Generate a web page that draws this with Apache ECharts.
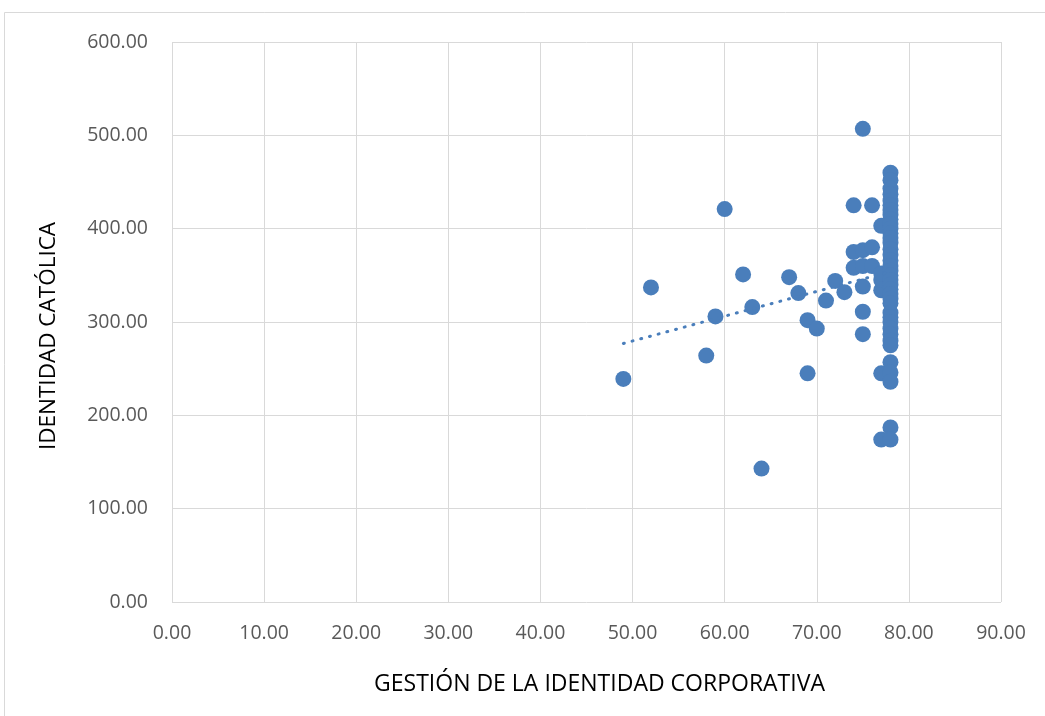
<!DOCTYPE html>
<html>
<head>
<meta charset="utf-8">
<title>Identidad católica vs gestión de la identidad corporativa</title>
<script src="https://cdn.jsdelivr.net/npm/echarts@6/dist/echarts.min.js"></script>
<style>
    html, body { margin: 0; padding: 0; background: #fff; }
    #main { width: 1045px; height: 716px; }
</style>
</head>
<body>
<div id="main"></div>
<script>
// puntos: gestión (x) e identidad (y)
var gestion = [49, 52, 58, 59, 60, 62, 63, 64, 67, 68, 69, 69, 70, 71, 72, 73,
    74, 74, 74, 75, 75, 75, 75, 75, 75, 76, 76, 76, 77, 77, 77, 77, 77, 77];
var identidad = [239, 337, 264, 306, 421, 351, 316, 143, 348, 331, 302, 245, 293, 323, 344, 332,
    425, 375, 358, 507, 377, 360, 338, 311, 287, 425, 380, 360, 403, 334, 345, 352, 245, 174];

// columna densa en x = 78
var identidad78 = [460, 452, 443, 437, 430, 425, 420, 415, 410, 405, 400, 395, 390, 385,
    378, 372, 366, 360, 355, 350, 345, 340, 335, 330, 325, 320, 310, 305, 300, 293,
    287, 280, 275, 257, 246, 236, 187, 174];

// línea de tendencia (lineal)
var trendX = [49, 78];
var trendY = [277, 354];

var xTicks = { min: 0, max: 90, interval: 10 };
var yTicks = { min: 0, max: 600, interval: 100 };

var puntos = [];
for (var i = 0; i < gestion.length; i++) {
    puntos.push([gestion[i], identidad[i]]);
}
for (var j = 0; j < identidad78.length; j++) {
    puntos.push([78, identidad78[j]]);
}
var tendencia = [];
for (var k = 0; k < trendX.length; k++) {
    tendencia.push([trendX[k], trendY[k]]);
}

var font = '"Open Sans", "Noto Sans", sans-serif';
var myChart = echarts.init(document.getElementById('main'));
var option = {
    animation: false,
    backgroundColor: '#fff',
    graphic: [{
        type: 'rect',
        shape: { x: 4.5, y: 12.5, width: 1100, height: 800 },
        style: { fill: 'none', stroke: '#d9d9d9', lineWidth: 1 },
        silent: true
    }],
    grid: { left: 172, right: 44, top: 42, bottom: 114 },
    xAxis: {
        type: 'value',
        min: xTicks.min,
        max: xTicks.max,
        interval: xTicks.interval,
        name: 'GESTIÓN DE LA IDENTIDAD CORPORATIVA',
        nameLocation: 'middle',
        nameGap: 71,
        nameTextStyle: { fontFamily: font, fontSize: 23, color: '#000', padding: [0, 0, 0, 26] },
        axisLine: { show: false },
        axisTick: { show: false },
        axisLabel: {
            margin: 21,
            fontFamily: font,
            fontSize: 19.5,
            color: '#595959',
            formatter: function (v) { return v.toFixed(2); }
        },
        splitLine: { show: true, lineStyle: { color: '#d9d9d9', width: 1 } }
    },
    yAxis: {
        type: 'value',
        min: yTicks.min,
        max: yTicks.max,
        interval: yTicks.interval,
        name: 'IDENTIDAD CATÓLICA',
        nameLocation: 'middle',
        nameGap: 112,
        nameTextStyle: { fontFamily: font, fontSize: 22.5, color: '#000', padding: [0, 28, 0, 0] },
        axisLine: { show: false },
        axisTick: { show: false },
        axisLabel: {
            margin: 24,
            fontFamily: font,
            fontSize: 19.5,
            color: '#595959',
            formatter: function (v) { return v.toFixed(2); }
        },
        splitLine: { show: true, lineStyle: { color: '#d9d9d9', width: 1 } }
    },
    series: [
        {
            name: 'puntos',
            type: 'scatter',
            symbol: 'circle',
            symbolSize: 16,
            itemStyle: { color: '#4a7ebb', opacity: 1 },
            data: puntos,
            z: 2
        },
        {
            name: 'tendencia',
            type: 'line',
            showSymbol: false,
            lineStyle: { color: '#4a7ebb', width: 3, type: [1, 8], cap: 'round' },
            data: tendencia,
            z: 3
        }
    ]
};
myChart.setOption(option);
</script>
</body>
</html>
